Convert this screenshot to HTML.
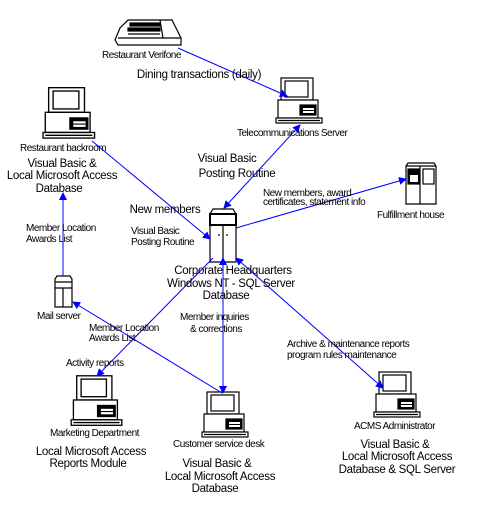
<!DOCTYPE html>
<html><head><style>
html,body{margin:0;padding:0;background:#fff;}
svg{display:block;}
text{font-family:"Liberation Sans",sans-serif;fill:#000;}
.s{font-size:10px;letter-spacing:-0.5px;}
.m{font-size:11.5px;letter-spacing:-0.3px;}
</style></head><body>
<svg width="488" height="516" viewBox="0 0 488 516" xmlns="http://www.w3.org/2000/svg">
<defs>
<g id="pc" fill="#fff" stroke="#000" stroke-width="1.2">
<rect x="5" y="0" width="32" height="22"/>
<rect x="9" y="3" width="23" height="16"/>
<rect x="2" y="22" width="40" height="18"/>
<rect x="24" y="27" width="16" height="10" fill="#000"/>
<rect x="27" y="30" width="11" height="2" fill="#fff" stroke="none"/>
<rect x="27" y="33" width="11" height="2" fill="#fff" stroke="none"/>
<rect x="0" y="40" width="46" height="5"/>
<line x1="2" y1="42.5" x2="44" y2="42.5"/>
</g>
<marker id="a" markerWidth="8" markerHeight="8" refX="7" refY="4" orient="auto-start-reverse" markerUnits="userSpaceOnUse"><path d="M0,0 L8,4 L0,8 Z" fill="#0000ff"/></marker>
</defs>

<!-- Verifone -->
<g fill="#fff" stroke="#000" stroke-width="1.2">
<path d="M120,28 L128,20 L172,20 L181,38 L181,45 L118,45 L115,40 Z"/>
<line x1="118" y1="38" x2="181" y2="38"/>
<rect x="130" y="23" width="30" height="3" fill="#000"/>
<rect x="128" y="28" width="32" height="3" fill="#000"/>
<line x1="160" y1="20" x2="163" y2="38"/>
<line x1="128" y1="34" x2="160" y2="34"/>
</g>

<!-- computers -->
<use href="#pc" x="276" y="78"/>
<use href="#pc" x="42" y="89" transform="translate(-4,-12) scale(1.12)"/>
<use href="#pc" x="72" y="378" transform="translate(-8,-40) scale(1.1)"/>
<use href="#pc" x="202" y="392"/>
<use href="#pc" x="374" y="372"/>

<!-- Fulfillment server -->
<g fill="#fff" stroke="#000" stroke-width="1.2">
<path d="M406,204 L406,166 L408,163 L434,163 L436,166 L436,204 Z"/>
<line x1="406" y1="166" x2="436" y2="166"/>
<line x1="420" y1="166" x2="420" y2="204"/>
<rect x="408" y="169" width="11" height="15" fill="#000"/>
<rect x="410" y="175" width="8" height="7" fill="#fff" stroke="none"/>
<rect x="423" y="169" width="11" height="15"/>
</g>

<!-- HQ server -->
<g fill="#fff" stroke="#000" stroke-width="1.2">
<path d="M210,262 L210,214 L213,209 L233,209 L236,214 L236,262 Z"/>
<rect x="210" y="214" width="26" height="11" stroke-width="2"/>
<line x1="223" y1="225" x2="223" y2="262"/>
<line x1="218" y1="235" x2="220" y2="235"/>
<line x1="226" y1="235" x2="228" y2="235"/>
</g>

<!-- Mail server -->
<g fill="#fff" stroke="#000" stroke-width="1.2">
<path d="M55,307 L55,279 L57,276 L70,276 L72,279 L72,307 Z"/>
<line x1="55" y1="282" x2="72" y2="282"/>
<line x1="55" y1="288" x2="72" y2="288"/>
<line x1="63" y1="288" x2="63" y2="307"/>
</g>

<!-- connectors -->
<g stroke="#0000ff" stroke-width="1" fill="none">
<line x1="178" y1="48" x2="287" y2="96" marker-end="url(#a)"/>
<line x1="300" y1="125" x2="224" y2="208" marker-start="url(#a)" marker-end="url(#a)"/>
<line x1="92" y1="141" x2="210" y2="239" marker-end="url(#a)"/>
<line x1="236" y1="228" x2="406" y2="179" marker-end="url(#a)"/>
<line x1="63" y1="276" x2="63" y2="193" marker-end="url(#a)"/>
<line x1="222" y1="393" x2="73" y2="302" marker-end="url(#a)"/>
<line x1="213" y1="258" x2="97" y2="376" marker-end="url(#a)"/>
<line x1="223" y1="258" x2="223" y2="393" marker-start="url(#a)" marker-end="url(#a)"/>
<line x1="236" y1="258" x2="383" y2="388" marker-start="url(#a)" marker-end="url(#a)"/>
</g>

<!-- labels -->
<g class="s">
<text x="102" y="58">Restaurant Verifone</text>
<text x="237" y="136">Telecommunications Server</text>
<text x="20" y="151">Restaurant backroom</text>
<text x="377" y="218">Fulfillment house</text>
<text x="263" y="196">New members, award</text>
<text x="263" y="205">certificates, statement info</text>
<text x="131" y="234">Visual Basic</text>
<text x="131" y="245">Posting Routine</text>
<text x="26" y="231">Member Location</text>
<text x="26" y="242">Awards List</text>
<text x="37" y="319">Mail server</text>
<text x="89" y="331">Member Location</text>
<text x="89" y="341">Awards List</text>
<text x="180" y="320">Member inquiries</text>
<text x="190" y="332">&amp; corrections</text>
<text x="287" y="347">Archive &amp; maintenance reports</text>
<text x="287" y="358">program rules maintenance</text>
<text x="66" y="366">Activity reports</text>
<text x="50" y="436">Marketing Department</text>
<text x="173" y="447">Customer service desk</text>
<text x="354" y="429">ACMS Administrator</text>
</g>
<g class="m" text-anchor="middle">
<text x="199" y="78">Dining transactions (daily)</text>
<text x="62" y="167">Visual Basic &amp;</text>
<text x="62" y="179">Local Microsoft Access</text>
<text x="59" y="192">Database</text>
<text x="227" y="162">Visual Basic</text>
<text x="237" y="177">Posting Routine</text>
<text x="165" y="213">New members</text>
<text x="233" y="274">Corporate Headquarters</text>
<text x="231" y="287">Windows NT -  SQL Server</text>
<text x="226" y="299">Database</text>
<text x="91" y="455">Local Microsoft Access</text>
<text x="88" y="467">Reports Module</text>
<text x="217" y="467">Visual Basic &amp;</text>
<text x="220" y="480">Local Microsoft Access</text>
<text x="215" y="492">Database</text>
<text x="395" y="448">Visual Basic &amp;</text>
<text x="397" y="460">Local Microsoft Access</text>
<text x="397" y="473">Database &amp; SQL Server</text>
</g>
</svg>
</body></html>
